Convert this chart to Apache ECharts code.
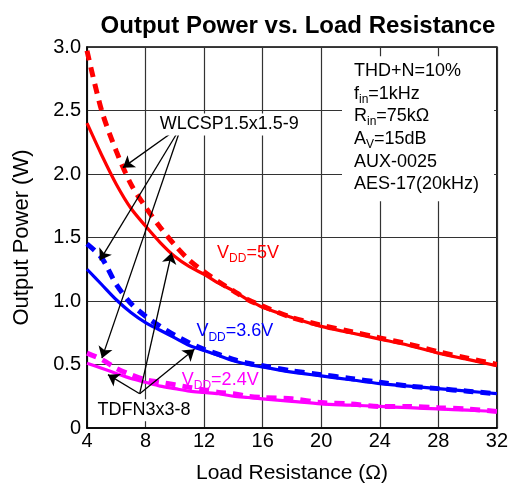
<!DOCTYPE html>
<html>
<head>
<meta charset="utf-8">
<script src="https://cdn.jsdelivr.net/npm/echarts@6/dist/echarts.min.js"></script>
<style>
  html, body { margin: 0; padding: 0; background: #fff; }
  #chart { width: 511px; height: 489px; }
</style>
</head>
<body>
<div id="chart"></div>
<script>
// load resistance (ohm)
const loadOhm = [4, 5, 6, 7, 8, 9, 10, 11, 12, 13, 14, 15, 16, 18, 20, 22, 24, 26, 28, 30, 32]

// output power (W), THD+N = 10%
const tdfn5V   = [2.40, 2.15, 1.92, 1.73, 1.59, 1.46, 1.35, 1.27, 1.21, 1.14, 1.08, 1.01, 0.95, 0.87, 0.80, 0.75, 0.70, 0.65, 0.59, 0.54, 0.49]
const wlcsp5V  = [2.97, 2.50, 2.18, 1.92, 1.74, 1.58, 1.44, 1.32, 1.23, 1.15, 1.08, 1.01, 0.96, 0.87, 0.81, 0.76, 0.71, 0.66, 0.60, 0.55, 0.50]
const tdfn36V  = [1.25, 1.13, 1.01, 0.91, 0.83, 0.77, 0.71, 0.65, 0.61, 0.57, 0.53, 0.50, 0.48, 0.44, 0.41, 0.38, 0.35, 0.33, 0.31, 0.29, 0.27]
const wlcsp36V = [1.45, 1.34, 1.13, 0.98, 0.88, 0.80, 0.73, 0.67, 0.62, 0.58, 0.54, 0.51, 0.49, 0.45, 0.42, 0.39, 0.36, 0.33, 0.31, 0.29, 0.27]
const tdfn24V  = [0.51, 0.47, 0.43, 0.39, 0.36, 0.33, 0.31, 0.29, 0.28, 0.27, 0.25, 0.24, 0.23, 0.21, 0.19, 0.18, 0.17, 0.16, 0.15, 0.14, 0.13]
const wlcsp24V = [0.59, 0.54, 0.47, 0.42, 0.38, 0.36, 0.34, 0.32, 0.30, 0.28, 0.27, 0.25, 0.24, 0.23, 0.20, 0.19, 0.17, 0.17, 0.16, 0.15, 0.13]

const xTicks = [4, 8, 12, 16, 20, 24, 28, 32]
const yTicks = ['0', '0.5', '1.0', '1.5', '2.0', '2.5', '3.0']

// annotation anchors in data units [ohm, W]
const wlcspFrom = [10.46, 2.38]
const wlcspTo = [[6.45, 2.05], [4.88, 1.32], [5.02, 0.55]]
const tdfnFrom = [7.6, 0.27]
const tdfnTo = [[5.43, 0.42], [9.78, 1.38], [11.34, 0.62]]

const FONT = 'Liberation Sans'
const RED = '#ff0000'
const BLUE = '#0000ff'
const MAGENTA = '#ff00ff'

const pairs = vals => loadOhm.map((x, i) => [x, vals[i]])

const arrows = (from, tos) => tos.map(t => [{ coord: from }, { coord: t }])

const vddLabel = (txt, color) => ({
  show: true,
  position: 'inside',
  formatter: '{m|V}{s|DD}{m|=' + txt + '}',
  rich: {
    m: { fontFamily: FONT, fontSize: 18, color: color, lineHeight: 24 },
    s: { fontFamily: FONT, fontSize: 12, color: color, lineHeight: 24, verticalAlign: 'bottom' }
  }
})

const solid = (name, vals, color) => ({
  name,
  type: 'line',
  data: pairs(vals),
  smooth: 0.3,
  symbol: 'none',
  lineStyle: { color, width: 3.2 },
  z: 3
})

const dashed = (name, vals, color) => ({
  name,
  type: 'line',
  data: pairs(vals),
  smooth: 0.3,
  symbol: 'none',
  lineStyle: { color, width: 5, type: [10, 7], cap: 'butt' },
  z: 4
})

const series = [
  solid('TDFN 5V', tdfn5V, RED),
  dashed('WLCSP 5V', wlcsp5V, RED),
  solid('TDFN 3.6V', tdfn36V, BLUE),
  dashed('WLCSP 3.6V', wlcsp36V, BLUE),
  solid('TDFN 2.4V', tdfn24V, MAGENTA),
  dashed('WLCSP 2.4V', wlcsp24V, MAGENTA)
]

// arrows and labels ride on the first series
series[0].markLine = {
  silent: true,
  animation: false,
  symbol: ['none', 'arrow'],
  symbolSize: 11,
  label: { show: false },
  lineStyle: { color: '#000', width: 1.3, type: 'solid' },
  data: arrows(wlcspFrom, wlcspTo).concat(arrows(tdfnFrom, tdfnTo))
}
series[0].markPoint = {
  silent: true,
  animation: false,
  symbol: 'rect',
  symbolSize: 0,
  data: [
    { coord: [13.72, 2.39], label: { show: true, position: 'inside', formatter: 'WLCSP1.5x1.5-9', fontFamily: FONT, fontSize: 18, color: '#000', backgroundColor: '#fff', padding: [2, 3] } },
    { coord: [7.9, 0.14], label: { show: true, position: 'inside', formatter: 'TDFN3x3-8', fontFamily: FONT, fontSize: 18, color: '#000', backgroundColor: '#fff', padding: [2, 3] } },
    { coord: [15.0, 1.38], label: vddLabel('5V', RED) },
    { coord: [14.1, 0.76], label: vddLabel('3.6V', BLUE) },
    { coord: [13.1, 0.38], label: vddLabel('2.4V', MAGENTA) }
  ]
}

const option = {
  animation: false,
  backgroundColor: '#fff',
  title: [
    {
      text: 'Output Power vs. Load Resistance',
      left: 293,
      textAlign: 'center',
      top: 9,
      textStyle: { fontFamily: FONT, fontSize: 24, fontWeight: 'bold', color: '#000' }
    },
    {
      text: '{a|THD+N=10%}\n{a|f}{s|in}{a|=1kHz}\n{a|R}{s|in}{a|=75kΩ}\n{a|A}{s|V}{a|=15dB}\n{a|AUX-0025}\n{a|AES-17(20kHz)}',
      left: 342,
      top: 54,
      backgroundColor: '#fff',
      padding: [6, 15, 8, 12],
      z: 10,
      textStyle: {
        rich: {
          a: { fontFamily: FONT, fontSize: 18, fontWeight: 'normal', color: '#000', lineHeight: 22.6 },
          s: { fontFamily: FONT, fontSize: 12, fontWeight: 'normal', color: '#000', lineHeight: 22.6, verticalAlign: 'bottom' }
        }
      }
    }
  ],
  grid: {
    left: 87,
    right: 11,
    top: 47,
    bottom: 58,
    show: true,
    borderColor: '#000',
    borderWidth: 1.5
  },
  xAxis: {
    type: 'value',
    min: 4,
    max: 32,
    interval: 4,
    name: 'Load Resistance (Ω)',
    nameLocation: 'middle',
    nameGap: 35,
    nameTextStyle: { fontFamily: FONT, fontSize: 21, color: '#000' },
    axisLine: { show: true, lineStyle: { color: '#000', width: 1.5 } },
    axisTick: { show: false },
    axisLabel: {
      fontFamily: FONT, fontSize: 20, color: '#000', margin: 3,
      formatter: v => (xTicks.includes(v) ? String(v) : '')
    },
    splitLine: { show: true, lineStyle: { color: '#333', width: 1.2 } }
  },
  yAxis: {
    type: 'value',
    min: 0,
    max: 3,
    interval: 0.5,
    name: 'Output Power (W)',
    nameLocation: 'middle',
    nameGap: 54,
    nameTextStyle: { fontFamily: FONT, fontSize: 22, color: '#000' },
    axisLine: { show: true, lineStyle: { color: '#000', width: 1.5 } },
    axisTick: { show: false },
    axisLabel: {
      fontFamily: FONT, fontSize: 20, color: '#000', margin: 6,
      formatter: v => yTicks[Math.round(v / 0.5)]
    },
    splitLine: { show: true, lineStyle: { color: '#333', width: 1.2 } }
  },
  series
}

const chart = echarts.init(document.getElementById('chart'), null, { renderer: 'canvas' })
chart.setOption(option)
</script>
</body>
</html>
